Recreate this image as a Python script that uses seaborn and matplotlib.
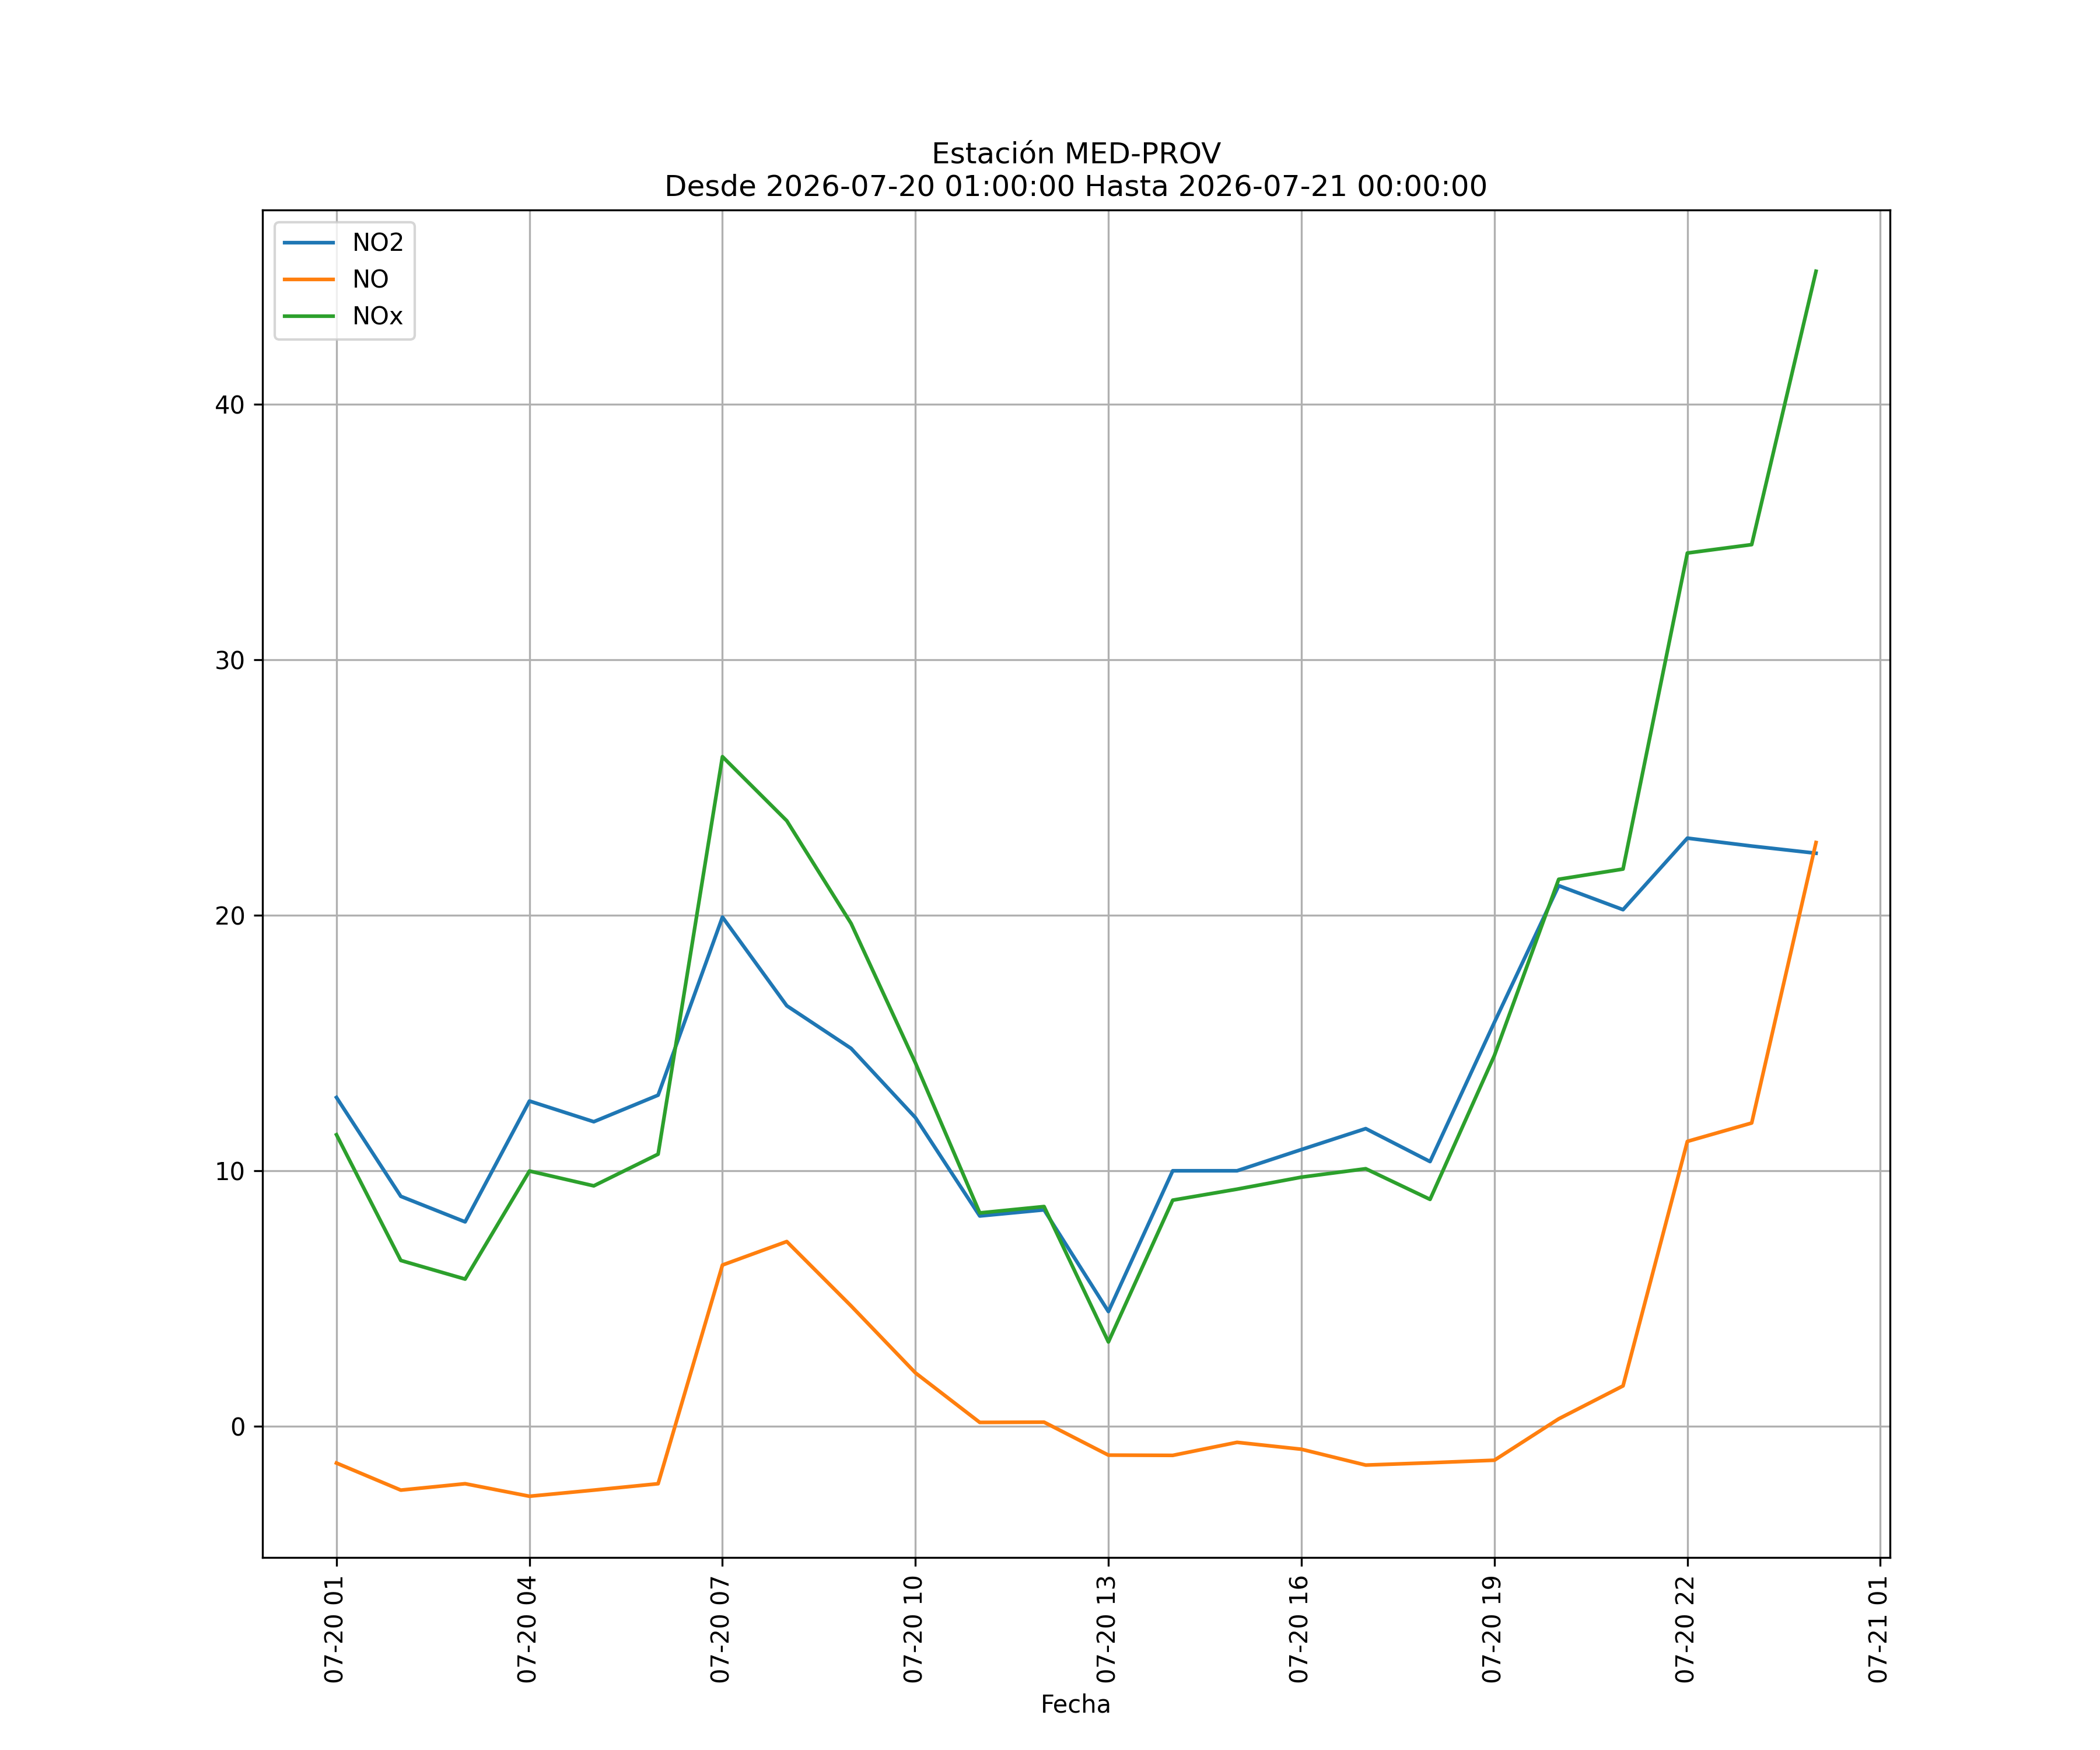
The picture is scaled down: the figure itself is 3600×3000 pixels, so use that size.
import pandas as pd
import numpy as np
import matplotlib
matplotlib.use("Agg")
import matplotlib.pyplot as plt
import matplotlib.dates as mdates
import seaborn as sns

# hourly values, 2026-07-20 01:00 -> 2026-07-21 00:00
fechas = pd.date_range("2026-07-20 01:00:00", "2026-07-21 00:00:00", freq="h")

no2 = [12.86, 8.99, 7.99, 12.72, 11.91, 12.95, 19.92, 16.45, 14.78, 12.07, 8.22, 8.46,
       4.48, 9.99, 9.99, 10.82, 11.64, 10.35, 15.8, 21.15, 20.21, 23.01, 22.7, 22.42]
no = [-1.45, -2.51, -2.26, -2.75, -2.51, -2.26, 6.30, 7.22, 4.7, 2.08, 0.14, 0.15,
      -1.14, -1.15, -0.64, -0.91, -1.53, -1.44, -1.34, 0.28, 1.57, 11.14, 11.86, 22.84]
nox = [11.40, 6.48, 5.75, 9.98, 9.40, 10.64, 26.2, 23.69, 19.67, 14.21, 8.34, 8.59,
       3.29, 8.84, 9.27, 9.74, 10.07, 8.87, 14.5, 21.4, 21.8, 34.17, 34.5, 45.2]

series = {"NO2": no2, "NO": no, "NOx": nox}
colores = ["#1f77b4", "#ff7f0e", "#2ca02c"]

fig, ax = plt.subplots(figsize=(12, 10), dpi=300)

for (nombre, valores), color in zip(series.items(), colores):
    sns.lineplot(x=fechas, y=valores, label=nombre, color=color, linewidth=1.5, ax=ax)

ax.grid(True)
ax.legend(loc="upper left")
ax.set_title("Estación MED-PROV\nDesde 2026-07-20 01:00:00 Hasta 2026-07-21 00:00:00")
ax.set_xlabel("Fecha")
ax.set_ylabel("")
ax.xaxis.set_major_locator(mdates.HourLocator(byhour=range(1, 24, 3)))
ax.xaxis.set_major_formatter(mdates.DateFormatter("%m-%d %H"))
plt.setp(ax.get_xticklabels(), rotation=90)

fig.savefig("out.png", dpi=300)
